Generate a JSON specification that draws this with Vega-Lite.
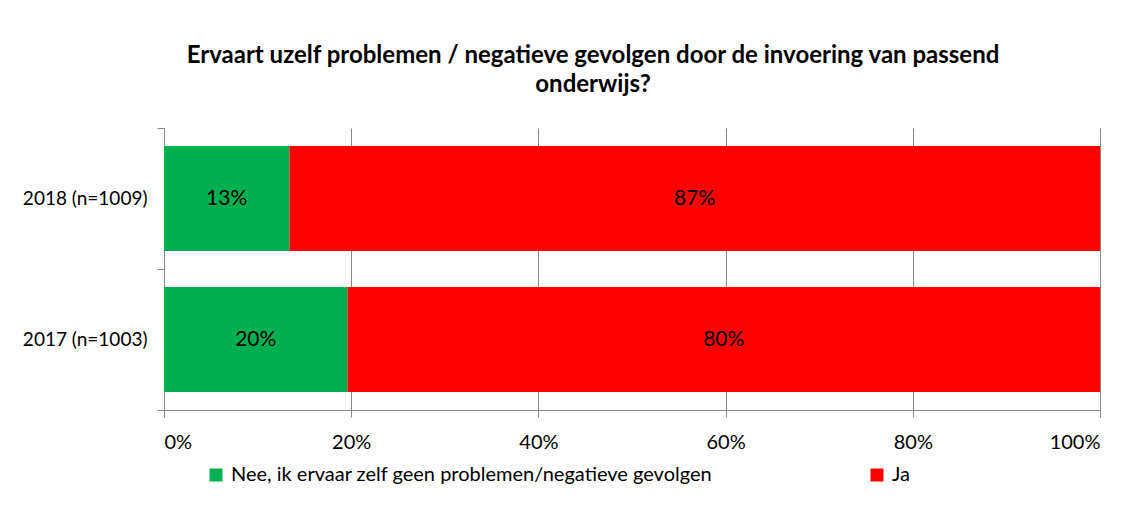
{
  "$schema": "https://vega.github.io/schema/vega-lite/v6.json",
  "width": 936,
  "height": 282,
  "autosize": {"type": "none"},
  "padding": {"left": 164, "top": 128, "right": 30, "bottom": 99},
  "background": "white",
  "config": {"font": "Lato", "view": {"stroke": null}},
  "title": {
    "text": ["Ervaart uzelf problemen / negatieve gevolgen door de invoering van passend", "onderwijs?"],
    "fontSize": 24,
    "font": "Lato",
    "fontWeight": "bold",
    "color": "black",
    "anchor": "middle",
    "frame": "group",
    "dx": -39,
    "offset": 22,
    "lineHeight": 29
  },
  "data": {
    "values": [
      {"jaar": "2018 (n=1009)", "antwoord": "Nee, ik ervaar zelf geen problemen/negatieve gevolgen", "pct": 0.134, "i": 1},
      {"jaar": "2018 (n=1009)", "antwoord": "Ja", "pct": 0.866, "i": 2},
      {"jaar": "2017 (n=1003)", "antwoord": "Nee, ik ervaar zelf geen problemen/negatieve gevolgen", "pct": 0.196, "i": 1},
      {"jaar": "2017 (n=1003)", "antwoord": "Ja", "pct": 0.804, "i": 2}
    ]
  },
  "transform": [
    {"stack": "pct", "groupby": ["jaar"], "sort": [{"field": "i", "order": "ascending"}], "as": ["x0", "x1"]},
    {"calculate": "(datum.x0 + datum.x1) / 2", "as": "mid"}
  ],
  "encoding": {
    "y": {
      "field": "jaar",
      "type": "nominal",
      "sort": ["2018 (n=1009)", "2017 (n=1003)"],
      "scale": {"paddingInner": 0, "paddingOuter": 0},
      "axis": {
        "title": null,
        "domainColor": "#868686",
        "tickColor": "#868686",
        "tickSize": 7,
        "tickBand": "extent",
        "labelFontSize": 19,
        "labelColor": "black",
        "labelPadding": 10,
        "grid": false
      }
    }
  },
  "layer": [
    {
      "mark": {"type": "bar", "height": {"band": 0.745}},
      "encoding": {
        "x": {
          "field": "x0",
          "type": "quantitative",
          "scale": {"domain": [0, 1], "nice": false},
          "axis": {
            "title": null,
            "format": ".0%",
            "values": [0, 0.2, 0.4, 0.6, 0.8, 1],
            "grid": true,
            "gridColor": "#868686",
            "domainColor": "#868686",
            "tickColor": "#868686",
            "tickSize": 7,
            "labelFontSize": 20,
            "labelColor": "black",
            "labelPadding": 15
          }
        },
        "x2": {"field": "x1"},
        "color": {
          "field": "antwoord",
          "type": "nominal",
          "scale": {
            "domain": ["Nee, ik ervaar zelf geen problemen/negatieve gevolgen", "Ja"],
            "range": ["#00B050", "#FF0000"]
          },
          "legend": {
            "title": null,
            "orient": "none",
            "legendX": 42,
            "legendY": 337,
            "direction": "horizontal",
            "columns": 2,
            "columnPadding": 154,
            "symbolType": "square",
            "symbolSize": 169,
            "symbolStrokeWidth": 0,
            "symbolOpacity": 1,
            "labelFontSize": 20,
            "labelColor": "black",
            "labelLimit": 1000,
            "labelOffset": 5
          }
        }
      }
    },
    {
      "mark": {"type": "text", "fontSize": 21, "color": "black", "align": "center", "baseline": "middle"},
      "encoding": {
        "x": {"field": "mid", "type": "quantitative"},
        "text": {"field": "pct", "type": "quantitative", "format": ".0%"}
      }
    }
  ]
}
